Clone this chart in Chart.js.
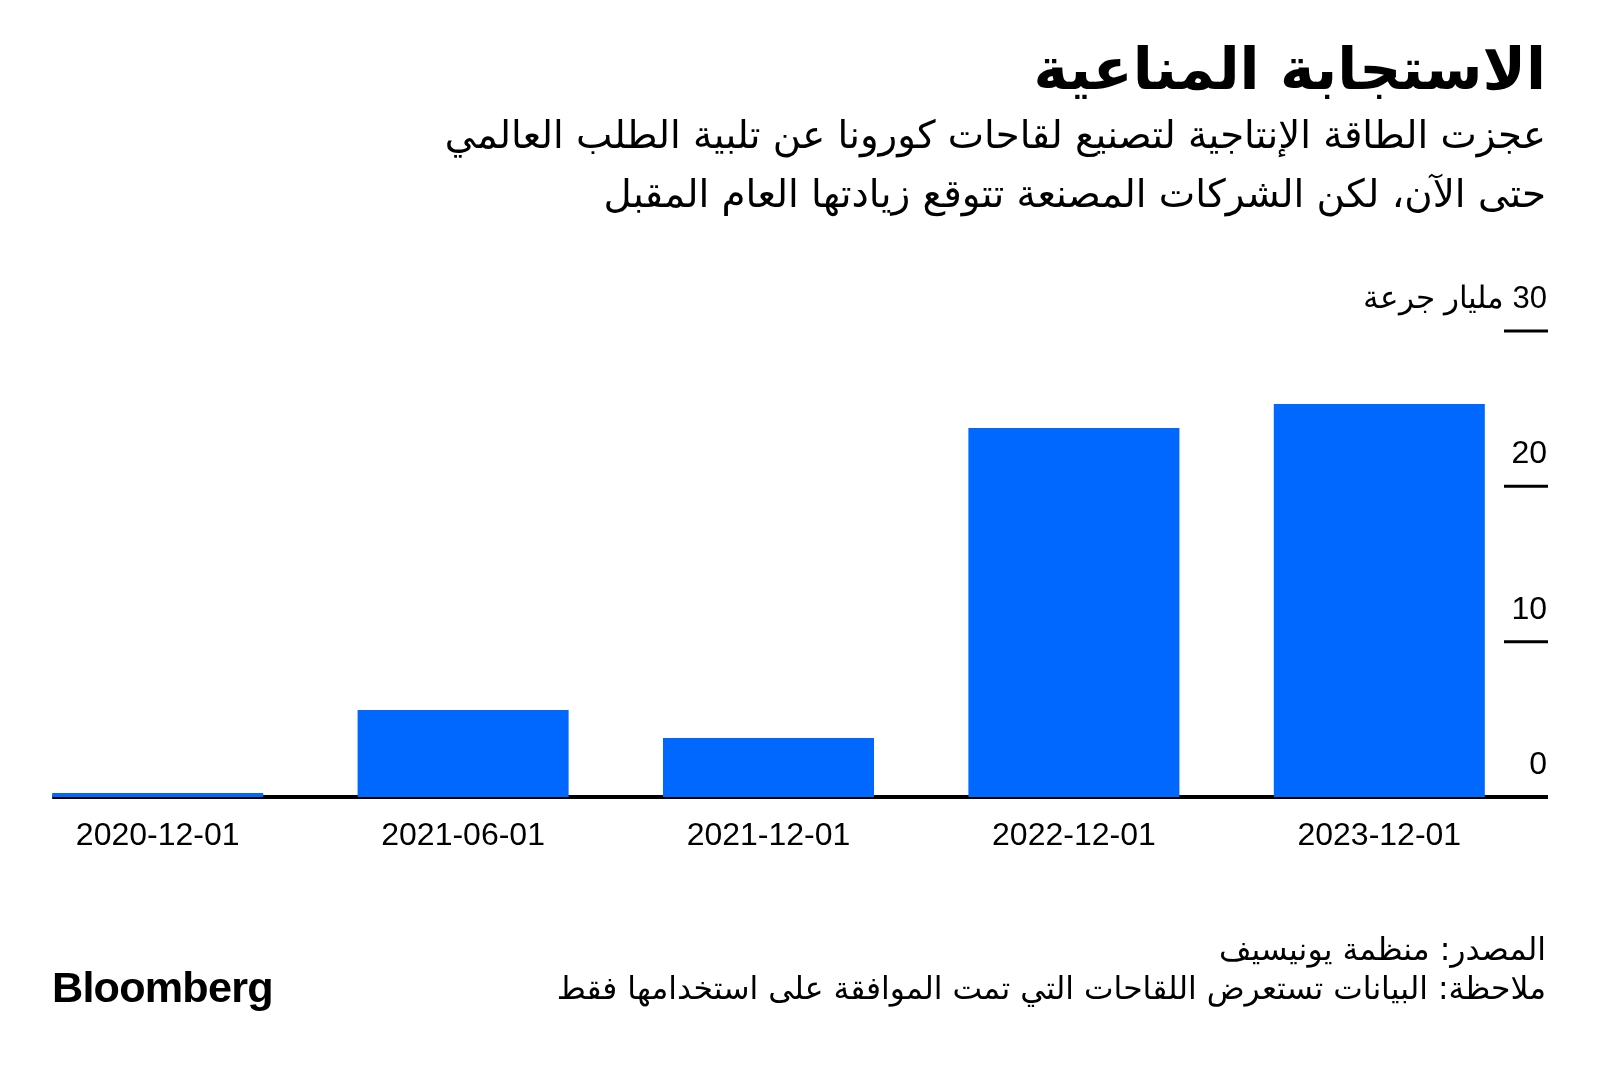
<!DOCTYPE html>
<html lang="ar">
<head>
<meta charset="utf-8">
<script src="https://cdn.jsdelivr.net/npm/chart.js@4.4.0/dist/chart.umd.min.js"></script>
<style>
  html, body { margin: 0; padding: 0; background: #fff; }
  #wrap { position: relative; width: 1600px; height: 1065px; overflow: hidden; background: #fff; }
  #c { position: absolute; left: 0; top: 0; }
  .t { position: absolute; right: 54px; direction: rtl; text-align: right; color: #000; white-space: nowrap; font-family: "DejaVu Sans", "Noto Sans", sans-serif; }
  #title { top: 29px; font-size: 58.4px; font-weight: bold; line-height: 80px; }
  #sub1 { top: 109px; font-size: 38.6px; line-height: 52px; }
  #sub2 { top: 168px; font-size: 38.8px; line-height: 52px; }
  #src { top: 929px; font-size: 31.5px; line-height: 40px; }
  #note { top: 968px; font-size: 31.4px; line-height: 40px; }
  #logo { position: absolute; left: 52px; top: 962px; font-family: "Liberation Sans", Arial, sans-serif; font-weight: bold; font-size: 43.2px; line-height: 50px; letter-spacing: -0.8px; color: #000; }
</style>
</head>
<body>
<div id="wrap">
  <canvas id="c" width="1600" height="1065"></canvas>
  <div class="t" id="title">الاستجابة المناعية</div>
  <div class="t" id="sub1">عجزت الطاقة الإنتاجية لتصنيع لقاحات كورونا عن تلبية الطلب العالمي</div>
  <div class="t" id="sub2">حتى الآن، لكن الشركات المصنعة تتوقع زيادتها العام المقبل</div>
  <div class="t" id="src">المصدر: منظمة يونيسيف</div>
  <div class="t" id="note">ملاحظة: البيانات تستعرض اللقاحات التي تمت الموافقة على استخدامها فقط</div>
  <div id="logo">Bloomberg</div>
</div>
<script>
const categories = ['2020-12-01', '2021-06-01', '2021-12-01', '2022-12-01', '2023-12-01'];
const doses = [0.25, 5.6, 3.8, 23.75, 25.3];
const yTicks = [0, 10, 20, 30];
const yUnit = 'مليار جرعة';

const axisPlugin = {
  id: 'bbgAxis',
  beforeDatasetsDraw(chart) {
    const ctx = chart.ctx;
    const y = chart.scales.y;
    const meta = chart.getDatasetMeta(0);
    const first = meta.data[0];
    const left = first.x - first.width / 2;
    const y0 = y.getPixelForValue(0);
    ctx.save();
    ctx.strokeStyle = '#000';
    ctx.lineWidth = 4;
    ctx.beginPath();
    ctx.moveTo(left, y0);
    ctx.lineTo(1548, y0);
    ctx.stroke();
    ctx.restore();
  },
  afterDraw(chart) {
    const ctx = chart.ctx;
    const y = chart.scales.y;
    ctx.save();
    ctx.fillStyle = '#000';
    ctx.strokeStyle = '#000';
    ctx.textBaseline = 'alphabetic';
    yTicks.forEach((v, i) => {
      const py = y.getPixelForValue(v);
      if (v !== 0) {
        ctx.lineWidth = 3;
        ctx.beginPath();
        ctx.moveTo(1504, py);
        ctx.lineTo(1548, py);
        ctx.stroke();
      }
      const isTop = (i === yTicks.length - 1);
      const label = isTop ? (v + ' ' + yUnit) : String(v);
      ctx.font = (isTop ? '31px' : '32px') + ' "Liberation Sans", Arial, sans-serif';
      ctx.direction = 'rtl';
      ctx.textAlign = 'right';
      ctx.fillText(label, 1547, py - 23);
    });
    ctx.restore();
  }
};

new Chart(document.getElementById('c'), {
  type: 'bar',
  data: {
    labels: categories,
    datasets: [{
      data: doses,
      backgroundColor: '#0068ff',
      borderWidth: 0,
      barPercentage: 0.691,
      categoryPercentage: 1.0
    }]
  },
  options: {
    responsive: false,
    animation: false,
    devicePixelRatio: 1,
    layout: { padding: { left: 5, right: 68, top: 331, bottom: 0 } },
    plugins: { legend: { display: false }, tooltip: { enabled: false }, title: { display: false } },
    scales: {
      x: {
        grid: { display: false, drawTicks: false },
        border: { display: false },
        ticks: { color: '#000', font: { family: '"Liberation Sans", Arial, sans-serif', size: 32 }, padding: 20, maxRotation: 0 },
        afterFit(scale) { scale.height = 1065 - 797; }
      },
      y: {
        display: false,
        min: 0,
        max: 30
      }
    }
  },
  plugins: [axisPlugin]
});
</script>
</body>
</html>
